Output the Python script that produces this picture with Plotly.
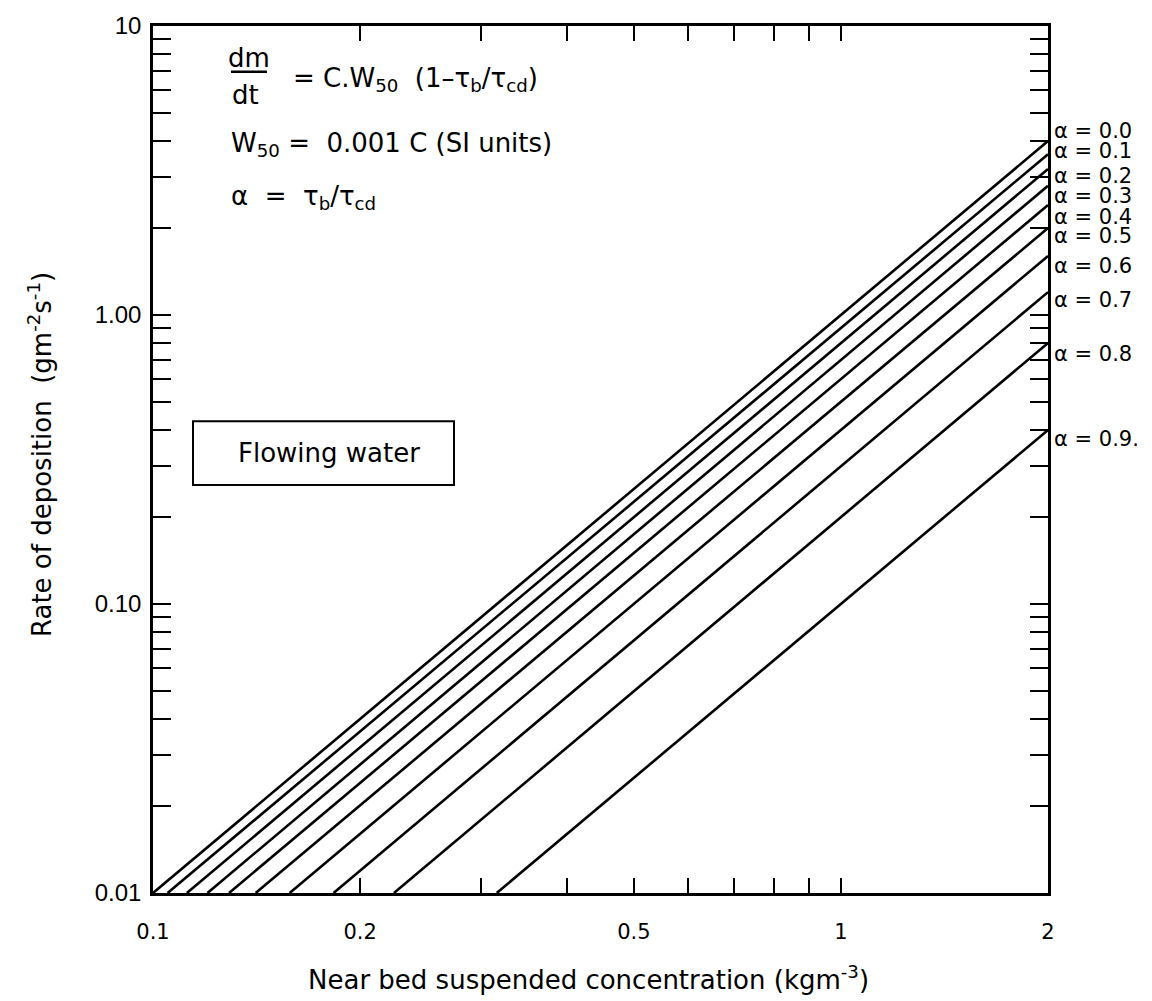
import math
import plotly.graph_objects as go

# ---- data ----
alphas = [0.0, 0.1, 0.2, 0.3, 0.4, 0.5, 0.6, 0.7, 0.8, 0.9]
alpha_labels = ["α = 0.0", "α = 0.1", "α = 0.2", "α = 0.3", "α = 0.4",
                "α = 0.5", "α = 0.6", "α = 0.7", "α = 0.8", "α = 0.9."]
# concentration (kg m^-3) where each line leaves the bottom axis (rate = 0.01)
start_conc = [0.100, 0.105, 0.112, 0.120, 0.129, 0.141, 0.158, 0.183, 0.224, 0.316]
start_rate = [0.01] * 10
# rate of deposition (g m^-2 s^-1) at the right edge (C = 2)
end_conc = [2.0] * 10
end_rate = [4.0, 3.6, 3.2, 2.8, 2.4, 2.0, 1.6, 1.2, 0.8, 0.4]

x_tickvals = [0.1, 0.2, 0.3, 0.4, 0.5, 0.6, 0.7, 0.8, 0.9, 1, 2]
x_ticktext = ["0.1", "0.2", "", "", "0.5", "", "", "", "", "1", "2"]
y_tickvals = [0.01, 0.02, 0.03, 0.04, 0.05, 0.06, 0.07, 0.08, 0.09,
              0.1, 0.2, 0.3, 0.4, 0.5, 0.6, 0.7, 0.8, 0.9,
              1, 2, 3, 4, 5, 6, 7, 8, 9, 10]
y_ticktext = ["0.01"] + [""] * 8 + ["0.10"] + [""] * 8 + ["1.00"] + [""] * 8 + ["10"]

# label vertical nudges (pixels) – styling only
label_yshift = [10, 3, -7, -10, -12, -8, -10, -8, -11, -9]

FONT = "DejaVu Sans, sans-serif"
TICKFONT = "Liberation Sans, Arial, sans-serif"

W, H = 1152, 1001
L, R, T, B = 153, 104, 22, 108
pw, ph = W - L - R, H - T - B


def px(xp):
    return (xp - L) / pw


def py(yp):
    return (H - B - yp) / ph


fig = go.Figure()
for i, a in enumerate(alphas):
    fig.add_trace(go.Scatter(
        x=[start_conc[i], end_conc[i]], y=[start_rate[i], end_rate[i]],
        mode="lines", line=dict(color="black", width=2.6),
        showlegend=False, hoverinfo="skip", name=alpha_labels[i]))
    fig.add_annotation(
        x=math.log10(end_conc[i]), y=math.log10(end_rate[i]), xref="x", yref="y",
        text=alpha_labels[i], showarrow=False, xanchor="left", yanchor="middle",
        xshift=4, yshift=label_yshift[i],
        font=dict(family=FONT, size=21, color="black"))

axis_common = dict(showline=True, linecolor="black", linewidth=2.5, mirror="allticks",
                   ticks="inside", tickcolor="black", tickwidth=2, showgrid=False,
                   zeroline=False)

fig.update_xaxes(type="log", range=[math.log10(0.1), math.log10(2)],
                 tickmode="array", tickvals=x_tickvals, ticktext=x_ticktext,
                 ticklen=15, ticklabelstandoff=18,
                 tickfont=dict(family=FONT, size=21, color="black"),
                 **axis_common)
fig.update_yaxes(type="log", range=[-2, 1],
                 tickmode="array", tickvals=y_tickvals, ticktext=y_ticktext,
                 ticklen=18, ticklabelstandoff=4,
                 tickfont=dict(family=TICKFONT, size=24, color="black"),
                 **axis_common)


def paper_text(x, y, text, size=26, anchor="left", angle=0):
    fig.add_annotation(x=x, y=y, xref="paper", yref="paper", text=text,
                       showarrow=False, xanchor=anchor, yanchor="middle",
                       textangle=angle,
                       font=dict(family=FONT, size=size, color="black"))


# axis titles
paper_text(px(588), py(978), "Near bed suspended concentration (kgm<sup>-3</sup>)",
           anchor="center")
paper_text(px(40), py(453), "Rate of deposition  (gm<sup>-2</sup>s<sup>-1</sup>)",
           anchor="center", angle=-90)

# equation block
paper_text(px(249), py(54), "dm", anchor="center")
paper_text(px(245), py(91), "dt", anchor="center")
fig.add_shape(type="line", xref="paper", yref="paper",
              x0=px(231), x1=px(267), y0=py(68), y1=py(68),
              line=dict(color="black", width=2.5))
paper_text(px(291), py(76), "= C.W<sub>50</sub>  (1–τ<sub>b</sub>/τ<sub>cd</sub>)")
paper_text(px(229), py(141), "W<sub>50</sub> =  0.001 C (SI units)")
paper_text(px(229), py(194), "α  =  τ<sub>b</sub>/τ<sub>cd</sub>")

# "Flowing water" box
fig.add_shape(type="rect", xref="paper", yref="paper",
              x0=px(193), x1=px(454), y0=py(483), y1=py(419),
              line=dict(color="black", width=2), fillcolor="white")
paper_text(px(329), py(451), "Flowing water", size=26, anchor="center")

fig.update_layout(width=W, height=H, margin=dict(l=L, r=R, t=T, b=B),
                  paper_bgcolor="white", plot_bgcolor="white")

fig.write_html("out.html")
